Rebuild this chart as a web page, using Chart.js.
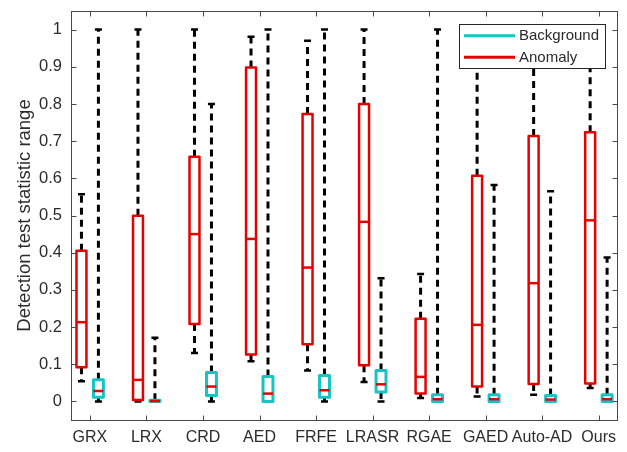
<!DOCTYPE html>
<html>
<head>
<meta charset="utf-8">
<script src="https://cdn.jsdelivr.net/npm/chart.js@4.4.1/dist/chart.umd.min.js"></script>
<style>
  html, body { margin: 0; padding: 0; background: #ffffff; }
  #c { display: block; }
</style>
</head>
<body>
<canvas id="c" width="627" height="452"></canvas>
<script>
// ---------- data ----------
const categories = ['GRX', 'LRX', 'CRD', 'AED', 'FRFE', 'LRASR', 'RGAE', 'GAED', 'Auto-AD', 'Ours'];

const anomalyMin    = [0.054, 0.000, 0.130, 0.108, 0.083, 0.052, 0.009, 0.013, 0.018, 0.036];
const anomalyQ1     = [0.092, 0.004, 0.208, 0.126, 0.154, 0.097, 0.021, 0.040, 0.047, 0.048];
const anomalyMedian = [0.213, 0.058, 0.450, 0.437, 0.360, 0.483, 0.066, 0.206, 0.318, 0.487];
const anomalyQ3     = [0.405, 0.499, 0.658, 0.898, 0.773, 0.800, 0.222, 0.607, 0.714, 0.724];
const anomalyMax    = [0.557, 1.000, 1.000, 0.981, 0.970, 1.000, 0.343, 1.000, 1.000, 1.000];

const backgroundMin    = [0.000, 0.000, 0.000, 0.000, 0.000, 0.000, 0.000, 0.000, 0.000, 0.000];
const backgroundQ1     = [0.011, 0.000, 0.016, 0.000, 0.011, 0.025, 0.000, 0.000, 0.000, 0.000];
const backgroundMedian = [0.028, 0.001, 0.040, 0.021, 0.030, 0.046, 0.006, 0.006, 0.005, 0.006];
const backgroundQ3     = [0.058, 0.003, 0.078, 0.067, 0.070, 0.083, 0.018, 0.018, 0.016, 0.018];
const backgroundMax    = [1.000, 0.171, 0.800, 1.000, 1.000, 0.331, 1.000, 0.582, 0.565, 0.387];

const yTickValues = [0, 0.1, 0.2, 0.3, 0.4, 0.5, 0.6, 0.7, 0.8, 0.9, 1];
const yTickLabels = ['0', '0.1', '0.2', '0.3', '0.4', '0.5', '0.6', '0.7', '0.8', '0.9', '1'];

// ---------- style ----------
const RED = '#e60000';
const CYAN = '#17c4c4';
const TEXT = '#2b2b2b';
const AXIS = '#4a4a4a';
const OFFSET = 0.15;      // group offset in category units
const BOX_HALF = 0.088;   // half box width in category units
const FONT = 'Liberation Sans, Arial, Helvetica, sans-serif';

const boxes = [
  { name: 'Anomaly', color: RED, lw: 2.5, off: -OFFSET, min: anomalyMin, q1: anomalyQ1, med: anomalyMedian, q3: anomalyQ3, max: anomalyMax },
  { name: 'Background', color: CYAN, lw: 3, off: OFFSET, min: backgroundMin, q1: backgroundQ1, med: backgroundMedian, q3: backgroundQ3, max: backgroundMax }
];

const boxPlugin = {
  id: 'boxplot',
  beforeDatasetsDraw(chart) {
    const ctx = chart.ctx;
    const xs = chart.scales.x, ys = chart.scales.y;
    ctx.save();
    boxes.forEach(b => {
      categories.forEach((c, i) => {
        const xc = xs.getPixelForValue(i + 1 + b.off);
        const xl = xs.getPixelForValue(i + 1 + b.off - BOX_HALF);
        const xr = xs.getPixelForValue(i + 1 + b.off + BOX_HALF);
        const yMin = ys.getPixelForValue(b.min[i]);
        const yQ1 = ys.getPixelForValue(b.q1[i]);
        const yQ3 = ys.getPixelForValue(b.q3[i]);
        const yMax = ys.getPixelForValue(b.max[i]);
        // whiskers
        ctx.strokeStyle = '#000000';
        ctx.lineWidth = 3;
        ctx.setLineDash([7, 5]);
        ctx.beginPath();
        ctx.moveTo(xc, yQ3); ctx.lineTo(xc, yMax);
        ctx.moveTo(xc, yQ1); ctx.lineTo(xc, yMin);
        ctx.stroke();
        ctx.setLineDash([]);
        // caps
        ctx.lineWidth = 2.5;
        ctx.beginPath();
        ctx.moveTo(xc - 3.5, yMax); ctx.lineTo(xc + 3.5, yMax);
        ctx.moveTo(xc - 3.5, yMin); ctx.lineTo(xc + 3.5, yMin);
        ctx.stroke();
        // box
        ctx.strokeStyle = b.color;
        ctx.lineWidth = b.lw;
        ctx.lineJoin = 'round';
        ctx.strokeRect(xl, yQ3, xr - xl, Math.max(yQ1 - yQ3, 0.5));
      });
    });
    ctx.restore();
  },
  afterDraw(chart) {
    const ctx = chart.ctx;
    const a = chart.chartArea;
    const xs = chart.scales.x, ys = chart.scales.y;
    ctx.save();
    // frame
    ctx.strokeStyle = AXIS;
    ctx.lineWidth = 1;
    const L = Math.round(a.left) + 0.5, R = Math.round(a.right) + 0.5;
    const T = Math.round(a.top) + 0.5, B = Math.round(a.bottom) + 0.5;
    ctx.strokeRect(L, T, R - L, B - T);
    // inward ticks
    ctx.beginPath();
    categories.forEach((c, i) => {
      const x = Math.round(xs.getPixelForValue(i + 1)) + 0.5;
      ctx.moveTo(x, B); ctx.lineTo(x, B - 5);
      ctx.moveTo(x, T); ctx.lineTo(x, T + 5);
    });
    yTickValues.forEach(v => {
      const y = Math.round(ys.getPixelForValue(v)) + 0.5;
      ctx.moveTo(L, y); ctx.lineTo(L + 5, y);
      ctx.moveTo(R, y); ctx.lineTo(R - 5, y);
    });
    ctx.stroke();
    // legend
    const lx = 459.5, ly = 24.5, lw = 146, lh = 44;
    ctx.fillStyle = '#ffffff';
    ctx.fillRect(lx, ly, lw, lh);
    ctx.strokeStyle = '#262626';
    ctx.lineWidth = 1;
    ctx.strokeRect(lx, ly, lw, lh);
    const entries = [{ t: 'Background', c: CYAN, y: 35.7 }, { t: 'Anomaly', c: RED, y: 57.3 }];
    ctx.font = '15px ' + FONT;
    ctx.textBaseline = 'middle';
    ctx.textAlign = 'left';
    entries.forEach(e => {
      ctx.strokeStyle = e.c;
      ctx.lineWidth = 3;
      ctx.beginPath();
      ctx.moveTo(464, e.y); ctx.lineTo(515, e.y);
      ctx.stroke();
      ctx.fillStyle = TEXT;
      ctx.fillText(e.t, 519, e.y + 0.5);
    });
    ctx.restore();
  }
};

new Chart(document.getElementById('c'), {
  type: 'scatter',
  data: {
    datasets: boxes.map(b => ({
      label: b.name,
      data: categories.map((c, i) => ({ x: i + 1 + b.off, y: b.med[i] })),
      pointStyle: 'line',
      pointRadius: 5,
      pointHoverRadius: 5,
      borderColor: RED,
      backgroundColor: RED,
      pointBorderWidth: 2.5,
      borderWidth: 2.5
    }))
  },
  options: {
    responsive: false,
    animation: false,
    events: [],
    layout: { padding: { top: 11, right: 10, left: 0, bottom: 0 } },
    plugins: { legend: { display: false }, tooltip: { enabled: false } },
    scales: {
      x: {
        type: 'linear',
        min: 0.665,
        max: 10.325,
        afterBuildTicks: s => { s.ticks = categories.map((c, i) => ({ value: i + 1 })); },
        afterFit: s => { s.height = 32; s.paddingLeft = 0; s.paddingRight = 0; },
        grid: { display: false, drawTicks: false },
        border: { display: false },
        ticks: {
          autoSkip: false, maxRotation: 0, minRotation: 0,
          padding: 8,
          color: TEXT,
          font: { family: FONT, size: 16 },
          callback: v => categories[Math.round(v) - 1]
        }
      },
      y: {
        type: 'linear',
        min: -0.05,
        max: 1.05,
        afterBuildTicks: s => { s.ticks = yTickValues.map(v => ({ value: v })); },
        afterFit: s => { s.width = 71; s.paddingTop = 0; s.paddingBottom = 0; },
        grid: { display: false, drawTicks: false },
        border: { display: false },
        ticks: {
          padding: 9,
          color: TEXT,
          font: { family: FONT, size: 16.5 },
          callback: (v, idx) => yTickLabels[idx]
        },
        title: {
          display: true,
          text: 'Detection test statistic range',
          color: TEXT,
          font: { family: FONT, size: 18.5 },
          padding: { top: 14, bottom: 0 }
        }
      }
    }
  },
  plugins: [boxPlugin]
});
</script>
</body>
</html>
